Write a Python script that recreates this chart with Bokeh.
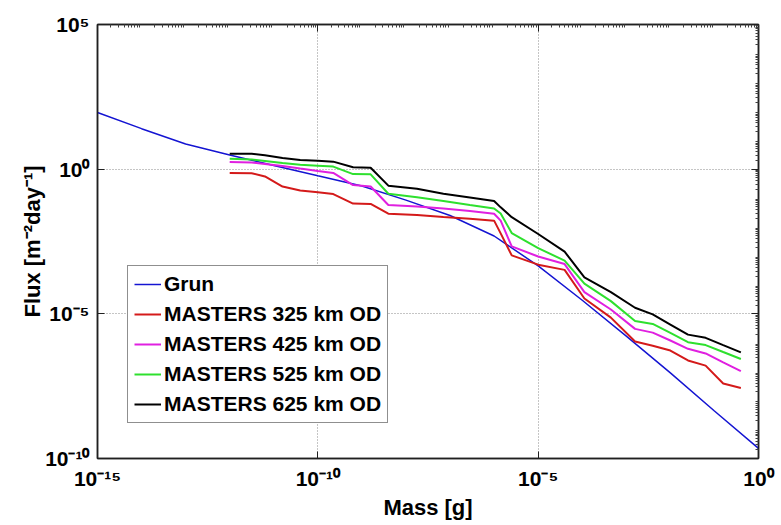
from bokeh.plotting import figure
from bokeh.models import (Legend, LegendItem, FixedTicker, LogAxis,
                          CustomJSTickFormatter)
from bokeh.embed import file_html
from bokeh.resources import INLINE

# ---- data -------------------------------------------------------------
# Grun interplanetary meteoroid flux model
grun_mass = [1e-15, 1e-14, 1e-13, 1e-12, 1e-11, 1e-10, 1e-9, 1e-8,
             1e-7, 1e-6, 1e-5, 1e-4, 1e-3, 1e-2, 1e-1, 1e0]
grun_flux = [91.2, 25.1, 7.41, 3.09, 1.35, 0.589, 0.263, 0.0851,
             0.0251, 4.90e-3, 4.57e-4, 2.95e-5, 1.70e-6, 9.12e-8, 4.37e-9, 2.24e-10]

# MASTER mass bins [g]
masters_mass = [1.00e-12, 3.16e-12, 6.31e-12, 1.58e-11, 3.98e-11, 1.00e-10,
                2.24e-10, 6.31e-10, 1.58e-9, 3.98e-9, 1.78e-8, 7.08e-8,
                2.82e-7, 1.00e-6, 1.41e-6, 2.51e-6, 1.00e-5, 3.98e-5,
                1.12e-4, 4.47e-4, 1.58e-3, 3.98e-3, 1.00e-2, 2.51e-2,
                6.31e-2, 0.158, 0.398]

flux_325 = [0.741, 0.724, 0.562, 0.251, 0.182, 0.158, 0.138, 0.0646, 0.0631,
            0.0288, 0.0263, 0.0224, 0.0195, 0.0166, 6.03e-3, 1.05e-3, 5.01e-4,
            3.31e-4, 3.39e-5, 7.41e-6, 1.10e-6, 7.94e-7, 5.37e-7, 2.45e-7,
            1.62e-7, 3.89e-8, 2.75e-8]
flux_425 = [1.78, 1.70, 1.51, 1.29, 1.05, 0.871, 0.741, 0.282, 0.251,
            0.0575, 0.0513, 0.0437, 0.0355, 0.0288, 0.0166, 2.14e-3, 9.55e-4,
            5.25e-4, 5.62e-5, 1.41e-5, 3.02e-6, 2.24e-6, 1.20e-6, 6.17e-7,
            4.27e-7, 2.09e-7, 1.05e-7]
flux_525 = [2.29, 2.14, 1.91, 1.62, 1.41, 1.32, 1.23, 0.676, 0.661,
            0.141, 0.107, 0.0794, 0.0575, 0.0437, 0.0295, 6.17e-3, 1.86e-3,
            6.92e-4, 1.10e-4, 2.75e-5, 5.62e-6, 4.47e-6, 2.19e-6, 1.05e-6,
            8.32e-7, 4.79e-7, 2.75e-7]
flux_625 = [3.39, 3.39, 3.02, 2.45, 2.09, 1.95, 1.82, 1.17, 1.12,
            0.269, 0.209, 0.141, 0.105, 0.0794, 0.0479, 0.0219, 5.75e-3,
            1.41e-3, 1.82e-4, 5.62e-5, 1.62e-5, 9.55e-6, 4.27e-6, 1.91e-6,
            1.48e-6, 8.32e-7, 4.68e-7]

series_labels = ["Grun", "MASTERS 325 km OD", "MASTERS 425 km OD",
                 "MASTERS 525 km OD", "MASTERS 625 km OD"]
series_colors = ["#1414d2", "#d41a1a", "#e020e0", "#2ee02e", "#000000"]

x_ticks = [1e-15, 1e-10, 1e-5, 1e0]
y_ticks = [1e-10, 1e-5, 1e0, 1e5]

FONT = "Liberation Sans"

# ---- figure -----------------------------------------------------------
p = figure(frame_width=661, frame_height=434,
           x_axis_type="log", y_axis_type="log",
           x_range=(1e-15, 1e0), y_range=(1e-10, 1e5),
           output_backend="svg", toolbar_location=None,
           min_border_left=97, min_border_right=23,
           min_border_top=24, min_border_bottom=67)
p.background_fill_color = "white"
p.border_fill_color = "white"
p.outline_line_color = "#202020"
p.outline_line_width = 1.5

x_minor = [m * 10.0 ** k for k in range(-15, 0) for m in range(2, 10)]
y_minor = [m * 10.0 ** k for k in range(-10, 5) for m in range(2, 10)]
xtick = FixedTicker(ticks=x_ticks, minor_ticks=x_minor)
ytick = FixedTicker(ticks=y_ticks, minor_ticks=y_minor)

# "10" followed by a superscript exponent
pow10 = CustomJSTickFormatter(code="""
const e = Math.round(Math.log10(tick));
const sup = {'-':'\u207b','0':'\u2070','1':'\u00b9','2':'\u00b2','3':'\u00b3',
             '4':'\u2074','5':'\u2075','6':'\u2076','7':'\u2077','8':'\u2078','9':'\u2079'};
return '10' + String(e).split('').map(c => sup[c]).join('');
""")
blank = CustomJSTickFormatter(code="return ''")

p.add_layout(LogAxis(), "right")
p.add_layout(LogAxis(), "above")
for ax in p.xaxis:
    ax.ticker = xtick
for ax in p.yaxis:
    ax.ticker = ytick
for ax in p.axis:
    ax.formatter = blank
    ax.axis_line_color = "#202020"
    ax.axis_line_width = 1.5
    ax.major_tick_in = 7
    ax.major_tick_out = 0
    ax.minor_tick_in = 3
    ax.minor_tick_out = 0
    ax.major_tick_line_color = "#202020"
    ax.minor_tick_line_color = "#404040"

for ax in (p.below[0], p.left[0]):
    ax.formatter = pow10
    ax.minor_tick_in = 0
    ax.major_label_text_font = FONT
    ax.major_label_text_font_style = "bold"
    ax.major_label_text_font_size = "21px"
    ax.major_label_text_color = "black"
    ax.axis_label_text_font = FONT
    ax.axis_label_text_font_style = "bold"
    ax.axis_label_text_font_size = "22px"
    ax.axis_label_text_color = "black"

p.below[0].axis_label = "Mass [g]"
p.below[0].major_label_standoff = 8
p.below[0].axis_label_standoff = 2
p.left[0].axis_label = "Flux [m\u207b\u00b2day\u207b\u00b9]"
p.left[0].major_label_standoff = 8
p.left[0].axis_label_standoff = -3

p.xgrid.ticker = xtick
p.ygrid.ticker = ytick
for g in (p.xgrid, p.ygrid):
    g.grid_line_color = "#8a8a8a"
    g.grid_line_dash = "1 2"
    g.grid_line_width = 1

# ---- lines --------------------------------------------------------------
r_grun = p.line(grun_mass, grun_flux, line_color=series_colors[0], line_width=1.5)
renderers = [r_grun]
for flux, col in zip([flux_325, flux_425, flux_525, flux_625], series_colors[1:]):
    renderers.append(p.line(masters_mass, flux, line_color=col, line_width=2))

legend = Legend(items=[LegendItem(label=lab, renderers=[r])
                       for lab, r in zip(series_labels, renderers)],
                location=(30, 35), margin=0, padding=6, spacing=6,
                glyph_width=27, glyph_height=24, label_height=24,
                label_standoff=3,
                label_text_font=FONT, label_text_font_size="21px",
                label_text_font_style="bold", label_text_color="black",
                border_line_color="#202020", border_line_width=1,
                background_fill_color="white", background_fill_alpha=1)
p.add_layout(legend)

open("out.html", "w").write(file_html(p, INLINE))
